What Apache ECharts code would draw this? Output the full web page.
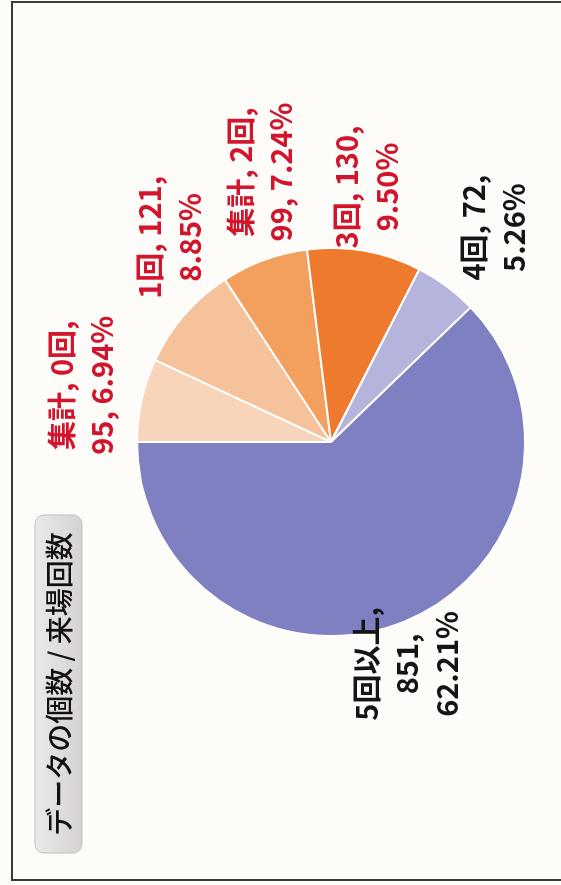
<!DOCTYPE html>
<html>
<head>
<meta charset="utf-8">
<script src="https://cdn.jsdelivr.net/npm/echarts@6/dist/echarts.min.js"></script>
<style>
  html, body { margin: 0; padding: 0; background: #fdfcf8; }
  body { width: 561px; height: 885px; position: relative; overflow: hidden; }
  /* the scan is turned on its side, so the chart is drawn 885x561 and rotated */
  #chart {
    position: absolute; left: 0; top: 0;
    width: 885px; height: 561px;
    transform-origin: 0 0;
    transform: translateY(885px) rotate(-90deg);
  }
</style>
</head>
<body>
<div id="chart"></div>
<script>
// データ
const categories = ['集計, 0回', '1回', '集計, 2回', '3回', '4回', '5回以上'];
const counts = [95, 121, 99, 130, 72, 851];
const titleText = 'データの個数 / 来場回数';

// styles
const sliceColors = ['#f8d5ba', '#f6c29c', '#f3a05f', '#ee7a2d', '#b4b4dc', '#7f80c1'];
const labelColors = ['#d2142c', '#d2142c', '#d2142c', '#d2142c', '#151515', '#151515'];
const labelWrap = ['name', 'value', 'name', 'value', 'value', 'all'];
const labelOffsets = [[0, 7], [33, 37], [24, 20], [-3, -10], [4, 7], [21, -22]];

const FONT = "'Liberation Sans Narrow', 'Noto Sans CJK JP', sans-serif";

function labelText(p) {
  const pct = p.percent.toFixed(2) + '%';
  const w = labelWrap[p.dataIndex];
  if (w === 'name') return p.name + ',\n' + p.value + ', ' + pct;
  if (w === 'all') return p.name + ',\n' + p.value + ',\n' + pct;
  return p.name + ', ' + p.value + ',\n' + pct;
}

const chart = echarts.init(document.getElementById('chart'), null, { renderer: 'canvas' });

const pieData = categories.map((c, i) => ({
  name: c,
  value: counts[i],
  itemStyle: { color: sliceColors[i] }
}));

// invisible ring, only used to place the labels around the pie
const labelData = categories.map((c, i) => ({
  name: c,
  value: counts[i],
  label: { color: labelColors[i], offset: labelOffsets[i] }
}));

chart.setOption({
  animation: false,
  backgroundColor: '#fdfcf8',
  graphic: [
    {
      type: 'rect',
      shape: { x: 5, y: 12, width: 878, height: 620 },
      style: { fill: 'none', stroke: '#3a3a3a', lineWidth: 2 },
      silent: true
    },
    {
      type: 'rect',
      shape: { x: 32, y: 35, width: 338, height: 47, r: 9 },
      style: {
        fill: new echarts.graphic.LinearGradient(0, 0, 0, 1, [
          { offset: 0, color: '#ebe8e8' },
          { offset: 1, color: '#d6d2d2' }
        ]),
        stroke: '#c4c0c0',
        lineWidth: 1
      },
      silent: true
    },
    {
      type: 'text',
      x: 201, y: 59,
      style: {
        text: titleText,
        font: "500 28px 'Noto Sans CJK JP', sans-serif",
        fill: '#111',
        align: 'center',
        verticalAlign: 'middle'
      },
      silent: true
    }
  ],
  series: [
    {
      type: 'pie',
      center: [443, 331],
      radius: 194,
      startAngle: 90,
      clockwise: true,
      silent: true,
      label: { show: false },
      labelLine: { show: false },
      itemStyle: { borderColor: '#ffffff', borderWidth: 2 },
      emphasis: { disabled: true },
      data: pieData
    },
    {
      type: 'pie',
      center: [443, 331],
      radius: [240, 278],
      startAngle: 90,
      clockwise: true,
      silent: true,
      avoidLabelOverlap: false,
      itemStyle: { color: 'rgba(0,0,0,0)' },
      label: {
        show: true,
        position: 'inside',
        formatter: labelText,
        fontFamily: FONT,
        fontWeight: 'bold',
        fontSize: 29,
        lineHeight: 40,
        align: 'center'
      },
      labelLine: { show: false },
      emphasis: { disabled: true },
      data: labelData
    }
  ]
});
</script>
</body>
</html>
